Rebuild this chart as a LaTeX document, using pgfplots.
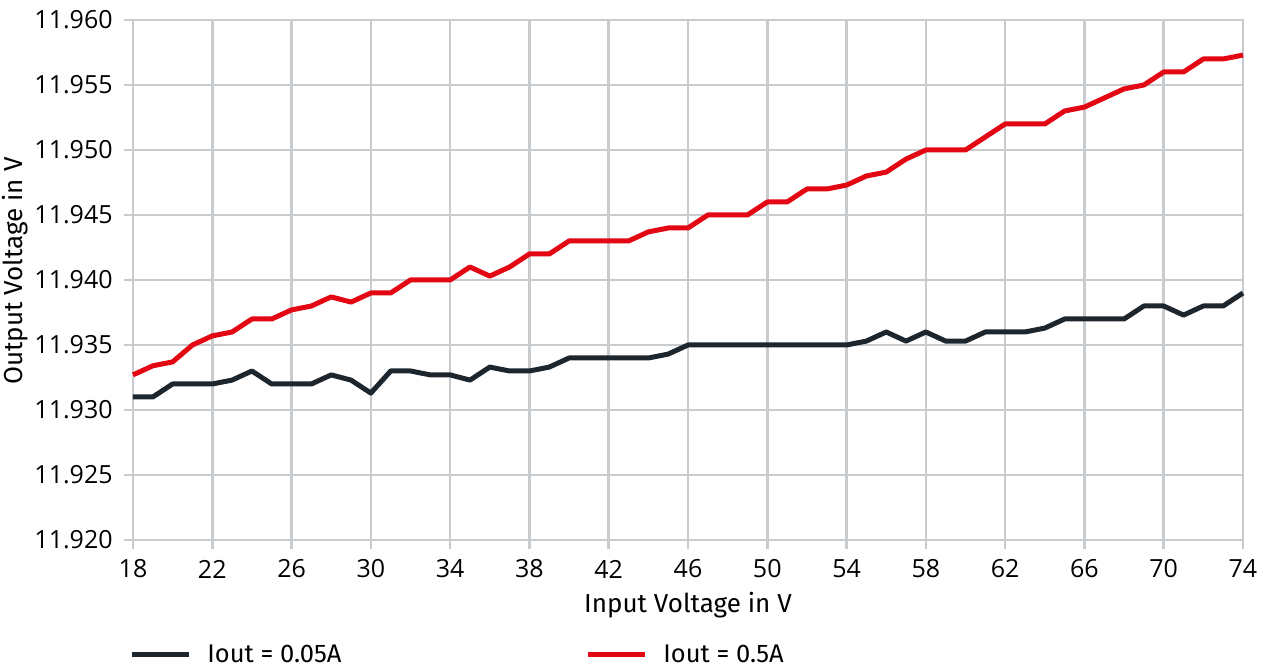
\documentclass[border=0pt]{standalone}
\usepackage{pgfplots}
\pgfplotsset{compat=1.18}
\usepackage{pgfplotstable}
\usepackage{fontspec}
\setmainfont{Fira Sans}
\newfontfamily\tickfont{Open Sans}
\definecolor{gridgray}{HTML}{C8CCCF}
\definecolor{darkline}{HTML}{1E262D}
\definecolor{redline}{HTML}{E30613}
\pgfplotstableread{
x black red
18 11.9310 11.9327
19 11.9310 11.9334
20 11.9320 11.9337
21 11.9320 11.9350
22 11.9320 11.9357
23 11.9323 11.9360
24 11.9330 11.9370
25 11.9320 11.9370
26 11.9320 11.9377
27 11.9320 11.9380
28 11.9327 11.9387
29 11.9323 11.9383
30 11.9313 11.9390
31 11.9330 11.9390
32 11.9330 11.9400
33 11.9327 11.9400
34 11.9327 11.9400
35 11.9323 11.9410
36 11.9333 11.9403
37 11.9330 11.9410
38 11.9330 11.9420
39 11.9333 11.9420
40 11.9340 11.9430
41 11.9340 11.9430
42 11.9340 11.9430
43 11.9340 11.9430
44 11.9340 11.9437
45 11.9343 11.9440
46 11.9350 11.9440
47 11.9350 11.9450
48 11.9350 11.9450
49 11.9350 11.9450
50 11.9350 11.9460
51 11.9350 11.9460
52 11.9350 11.9470
53 11.9350 11.9470
54 11.9350 11.9473
55 11.9353 11.9480
56 11.9360 11.9483
57 11.9353 11.9493
58 11.9360 11.9500
59 11.9353 11.9500
60 11.9353 11.9500
61 11.9360 11.9510
62 11.9360 11.9520
63 11.9360 11.9520
64 11.9363 11.9520
65 11.9370 11.9530
66 11.9370 11.9533
67 11.9370 11.9540
68 11.9370 11.9547
69 11.9380 11.9550
70 11.9380 11.9560
71 11.9373 11.9560
72 11.9380 11.9570
73 11.9380 11.9570
74 11.9390 11.9573
}\datatable
\begin{document}
\begin{tikzpicture}
\path[use as bounding box] (-66.5pt,-64.5pt) rectangle (566pt,270pt);
\begin{axis}[
  at={(0pt,0pt)}, anchor=south west,
  scale only axis,
  width=555pt, height=260pt,
  xmin=18, xmax=74, ymin=11.920, ymax=11.960,
  xtick={18,22,...,74},
  ytick={11.920,11.925,11.930,11.935,11.940,11.945,11.950,11.955,11.960},
  yticklabels={11.920,11.925,11.930,11.935,11.940,11.945,11.950,11.955,11.960},
  grid=major,
  major grid style={gridgray, line width=1.3pt},
  axis line style={gridgray, line width=1.3pt},
  tick style={gridgray, line width=1.3pt},
  tick align=outside, major tick length=4.5pt,
  xtick pos=bottom, ytick pos=left,
  /pgf/number format/assume math mode=true,
  tick label style={font=\tickfont\fontsize{12.5pt}{14pt}\selectfont, text=black},
  xticklabel style={anchor=center, yshift=-10pt},
  yticklabel style={anchor=east, inner sep=0pt, xshift=-5.5pt},
  label style={font=\fontsize{13pt}{15pt}\selectfont, text=black},
  xlabel={Input Voltage in V},
  ylabel={Output Voltage in V},
  xlabel style={at={(rel axis cs:0.5,0)}, anchor=center, yshift=-32.5pt},
  ylabel style={at={([xshift=-59pt,yshift=4.5pt]rel axis cs:0,0.5)}, anchor=center},
  legend columns=2,
  legend cell align=left,
  legend style={at={([xshift=-2pt,yshift=-57.5pt]rel axis cs:0,0)}, anchor=west, draw=none, fill=none, inner sep=0pt,
    font=\fontsize{12.75pt}{14pt}\selectfont,
    /tikz/every odd column/.append style={column sep=8pt},
    nodes={inner sep=0pt}},
  legend image code/.code={\draw[#1, line width=2.5pt] (0pt,0pt) -- (28.5pt,0pt);},
  clip=false,
]
\addplot[darkline, line width=2.5pt, line join=round] table[x=x, y=black] {\datatable};
\addlegendentry{\makebox[189pt][l]{Iout = 0.05A}}
\addplot[redline, line width=2.5pt, line join=round] table[x=x, y=red] {\datatable};
\addlegendentry{Iout = 0.5A}
\end{axis}
\end{tikzpicture}
\end{document}
